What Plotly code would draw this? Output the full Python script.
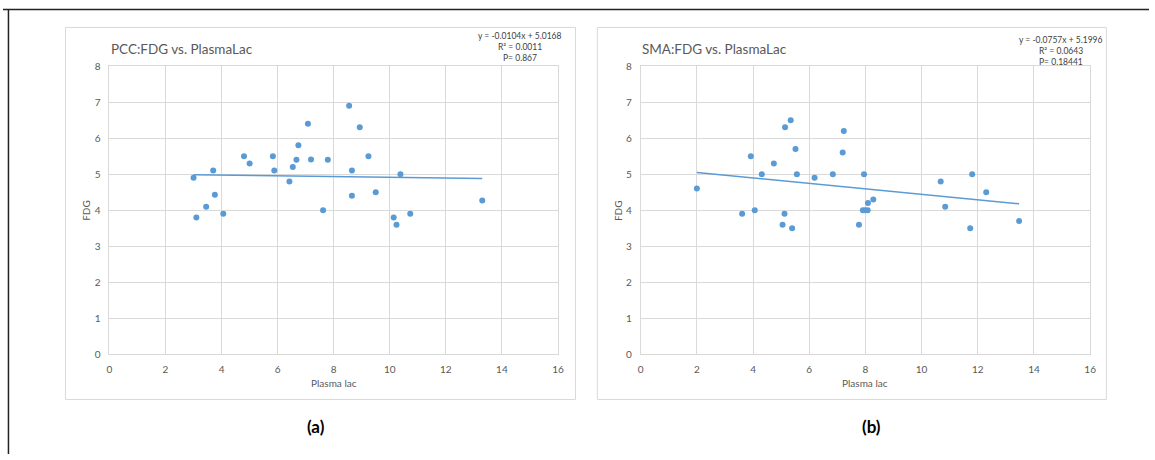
import plotly.graph_objects as go

W, H = 1155, 460

# Panel (a): PCC FDG vs plasma lactate
pcc_lac = [3.0, 3.1, 3.45, 3.7, 3.76, 4.06, 4.8, 5.0, 5.83, 5.88, 6.42, 6.54, 6.67, 6.74,
           7.08, 7.19, 7.62, 7.79, 8.55, 8.65, 8.65, 8.93, 9.24, 9.5, 10.14, 10.24, 10.38,
           10.73, 13.3]
pcc_fdg = [4.9, 3.8, 4.1, 5.1, 4.43, 3.9, 5.5, 5.3, 5.5, 5.1, 4.8, 5.2, 5.4, 5.8,
           6.4, 5.41, 4.0, 5.4, 6.9, 5.1, 4.4, 6.3, 5.5, 4.5, 3.8, 3.6, 5.0,
           3.9, 4.27]
pcc_slope, pcc_intercept = -0.0104, 5.0168
pcc_r2, pcc_p = "0.0011", "0.867"

# Panel (b): SMA FDG vs plasma lactate
sma_lac = [2.0, 3.61, 3.92, 4.06, 4.31, 4.74, 5.05, 5.12, 5.14, 5.34, 5.39, 5.51, 5.56,
           6.19, 6.84, 7.19, 7.23, 7.77, 7.91, 7.95, 7.99, 8.08, 8.09, 8.28, 10.68,
           10.84, 11.73, 11.8, 12.3, 13.47]
sma_fdg = [4.6, 3.9, 5.5, 4.0, 5.0, 5.3, 3.6, 3.9, 6.3, 6.5, 3.5, 5.7, 5.0,
           4.9, 5.0, 5.6, 6.2, 3.6, 4.0, 5.0, 4.0, 4.0, 4.2, 4.3, 4.8,
           4.1, 3.5, 5.0, 4.5, 3.7]
sma_slope, sma_intercept = -0.0757, 5.1996
sma_r2, sma_p = "0.0643", "0.18441"

titles = ["PCC:FDG vs. PlasmaLac", "SMA:FDG vs. PlasmaLac"]
panel_tags = ["(a)", "(b)"]
x_title = "Plasma lac"
y_title = "FDG"
x_ticks = [0, 2, 4, 6, 8, 10, 12, 14, 16]
y_ticks = [0, 1, 2, 3, 4, 5, 6, 7, 8]

BLUE = "#5B9BD5"
GRID = "#d9d9d9"
TXT = "#595959"
FONT = "Lato, 'Open Sans', sans-serif"


def px(x):
    return x / W


def py(y):
    return 1 - y / H


panels = [
    dict(lac=pcc_lac, fdg=pcc_fdg, m=pcc_slope, b=pcc_intercept, r2=pcc_r2, p=pcc_p,
         box=(63, 577), plot=(107.3, 559.3), eq_x=521, eq_y=(31, 42.5, 53.5), tag_x=315),
    dict(lac=sma_lac, fdg=sma_fdg, m=sma_slope, b=sma_intercept, r2=sma_r2, p=sma_p,
         box=(599, 1112), plot=(642.7, 1095.7), eq_x=1066, eq_y=(34.5, 46, 57.5), tag_x=875),
]

PLOT_TOP, PLOT_BOTTOM = 61.7, 357.7

fig = go.Figure()
shapes = []
annotations = []

for i, pn in enumerate(panels):
    xa = "x" if i == 0 else "x2"
    ya = "y" if i == 0 else "y2"
    # scatter points
    fig.add_trace(go.Scatter(
        x=pn["lac"], y=pn["fdg"], mode="markers", xaxis=xa, yaxis=ya,
        marker=dict(color=BLUE, size=6, line=dict(width=0)), showlegend=False,
    ))
    # linear trendline from the fitted coefficients
    x0, x1 = min(pn["lac"]), max(pn["lac"])
    fig.add_trace(go.Scatter(
        x=[x0, x1], y=[pn["m"] * x0 + pn["b"], pn["m"] * x1 + pn["b"]],
        mode="lines", xaxis=xa, yaxis=ya,
        line=dict(color=BLUE, width=1.5), showlegend=False,
    ))

    axis_common = dict(showgrid=True, gridcolor=GRID, gridwidth=1, zeroline=False,
                       showline=True, linecolor=GRID, linewidth=1, mirror=True,
                       tickfont=dict(family=FONT, size=10, color=TXT), ticks="")
    xlay = dict(axis_common, domain=[px(pn["plot"][0]), px(pn["plot"][1])],
                range=[0, 16], tickvals=x_ticks, anchor=ya, fixedrange=True,
                ticklabelstandoff=6)
    ylay = dict(axis_common, domain=[py(PLOT_BOTTOM), py(PLOT_TOP)],
                range=[0, 8], tickvals=y_ticks, anchor=xa, fixedrange=True,
                ticklabelstandoff=6)
    if i == 0:
        fig.update_layout(xaxis=xlay, yaxis=ylay)
    else:
        fig.update_layout(xaxis2=xlay, yaxis2=ylay)

    # chart box
    shapes.append(dict(type="rect", xref="paper", yref="paper",
                       x0=px(pn["box"][0]), x1=px(pn["box"][1]), y0=py(404), y1=py(22),
                       line=dict(color=GRID, width=1)))

    # chart title
    annotations.append(dict(text=titles[i], xref="paper", yref="paper",
                            x=px(pn["plot"][0] - 0.5), y=py(44), xanchor="left", yanchor="middle",
                            showarrow=False, font=dict(family=FONT, size=13.5, color=TXT)))
    # regression text
    lines = [f"y = {pn['m']}x + {pn['b']}", f"R² = {pn['r2']}", f"P= {pn['p']}"]
    for ln, yy in zip(lines, pn["eq_y"]):
        annotations.append(dict(text=ln, xref="paper", yref="paper",
                                x=px(pn["eq_x"]), y=py(yy), xanchor="center", yanchor="middle",
                                showarrow=False, font=dict(family=FONT, size=8.5, color="#404040")))
    # axis titles
    cx = (pn["plot"][0] + pn["plot"][1]) / 2
    annotations.append(dict(text=x_title, xref="paper", yref="paper",
                            x=px(cx), y=py(387), xanchor="center", yanchor="middle",
                            showarrow=False, font=dict(family=FONT, size=10, color=TXT)))
    annotations.append(dict(text=y_title, xref="paper", yref="paper", textangle=-90,
                            x=px(pn["plot"][0] - 23), y=py((PLOT_TOP + PLOT_BOTTOM) / 2),
                            xanchor="center", yanchor="middle",
                            showarrow=False, font=dict(family=FONT, size=10, color=TXT)))
    # panel tag
    annotations.append(dict(text=f"<b>{panel_tags[i]}</b>", xref="paper", yref="paper",
                            x=px(pn["tag_x"]), y=py(432), xanchor="center", yanchor="middle",
                            showarrow=False, font=dict(family=FONT, size=17, color="#000000")))

# outer frame: top and left rules
shapes.append(dict(type="line", xref="paper", yref="paper", x0=0, x1=1,
                   y0=py(3.5), y1=py(3.5), line=dict(color="#222222", width=1.5)))
shapes.append(dict(type="line", xref="paper", yref="paper", x0=px(5.5), x1=px(5.5),
                   y0=0, y1=py(3.5), line=dict(color="#222222", width=1.5)))

fig.update_layout(
    width=W, height=H, margin=dict(l=0, r=0, t=0, b=0),
    paper_bgcolor="white", plot_bgcolor="white",
    shapes=shapes, annotations=annotations, showlegend=False,
    font=dict(family=FONT),
)

fig.write_html("out.html", config={"displayModeBar": False})
